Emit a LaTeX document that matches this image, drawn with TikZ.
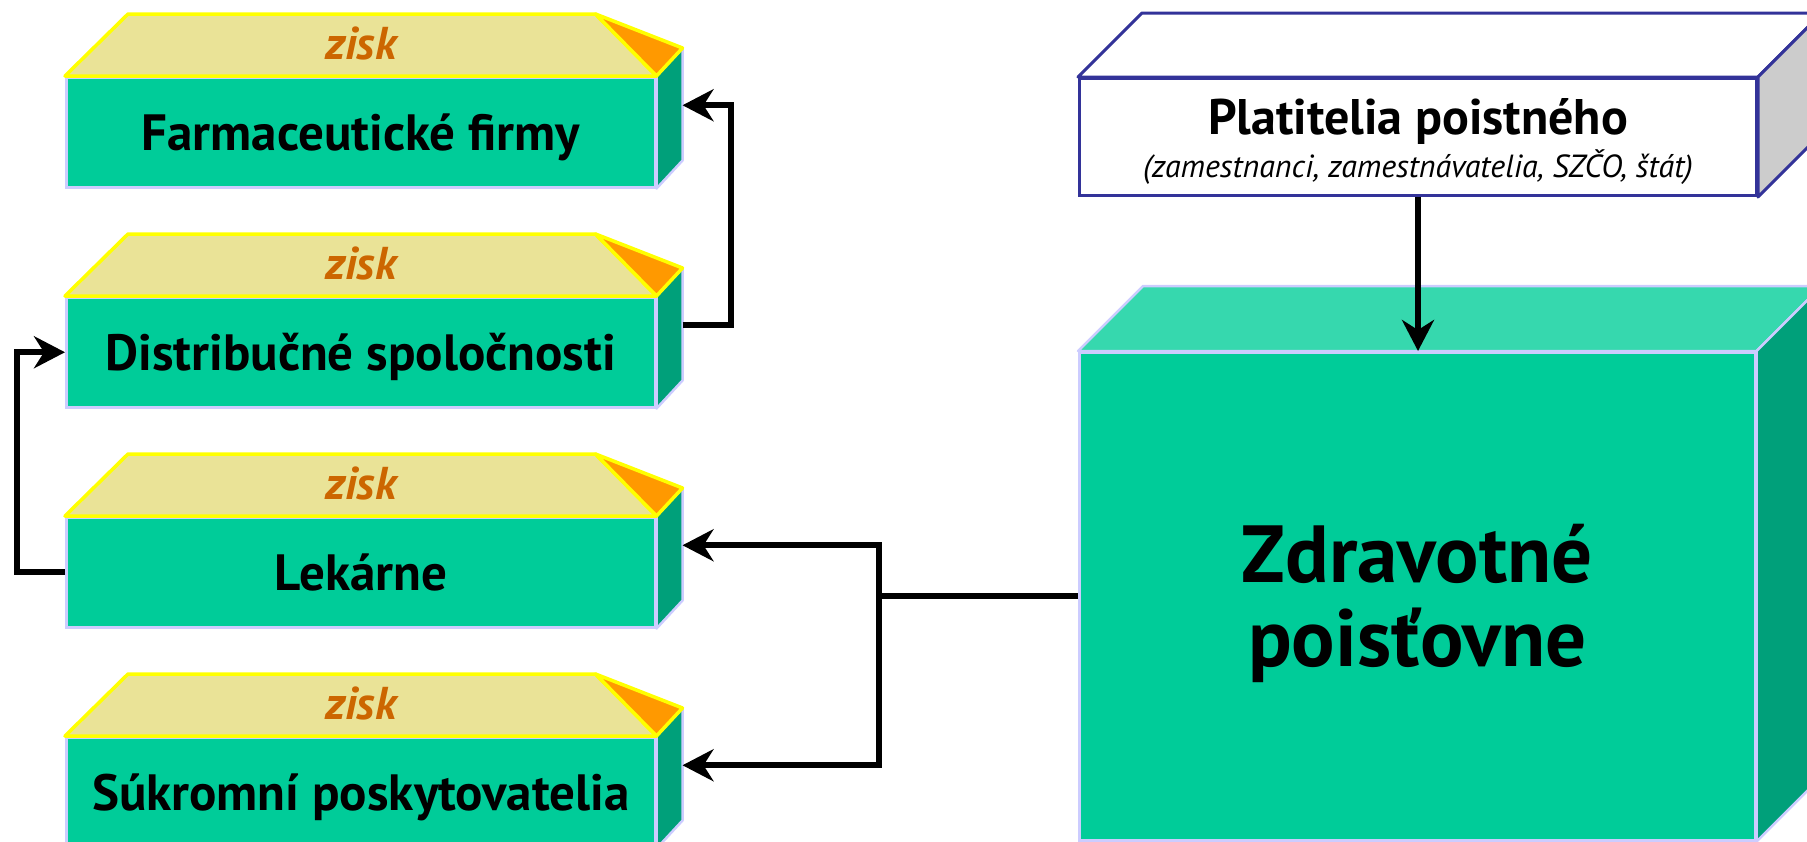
\documentclass[tikz,border=0pt]{standalone}
\usepackage{fontspec}
\setmainfont{PT Sans}
\usetikzlibrary{arrows.meta,calc}

\definecolor{faceteal}{HTML}{00CC99}
\definecolor{sideteal}{HTML}{00A07A}
\definecolor{topteal}{HTML}{36D8AE}
\definecolor{edgelav}{HTML}{CCCCFF}
\definecolor{roofkhaki}{HTML}{EAE397}
\definecolor{roofedge}{HTML}{FFFF00}
\definecolor{roofcorner}{HTML}{FF9900}
\definecolor{profittext}{HTML}{CC6600}
\definecolor{payeredge}{HTML}{333399}
\definecolor{payerside}{HTML}{CCCCCC}

% a green block with a "zisk" roof and a shallow side face
\newcommand\profitblock[4]{%
  \node[frontface] (#1) at (#2,#3) {#4};
  \filldraw[sideface] (#1.north east) -- ++(26,-28) -- ($(#1.south east)+(26,-28)$) -- (#1.south east) -- cycle;
  \filldraw[roofface] (#1.north west) -- ++(63,-62) -- ($(#1.north east)+(-61,-62)$) -- (#1.north east) -- cycle;
  \filldraw[roofcornerface] ($(#1.north east)+(-61,-62)$) -- ($(#1.north east)+(26,-28)$) -- (#1.north east) -- cycle;
  \node[profitlabel] (#1-zisk) at ($(#1.north)+(0,-17)$) {zisk};
  \coordinate (#1-side) at ($(#1.east)+(26,-27)$);
}

\begin{document}
\begin{tikzpicture}[x=1pt,y=-1pt,
  frontface/.style={draw=edgelav, line width=2.5pt, fill=faceteal, anchor=north west,
    minimum width=589pt, minimum height=110pt, inner sep=0pt,
    font=\fontsize{51}{58}\selectfont\bfseries, text height=36pt, text depth=0pt},
  sideface/.style={draw=edgelav, line width=2.5pt, fill=sideteal, line join=round},
  roofface/.style={draw=roofedge, line width=3.5pt, fill=roofkhaki, line join=round},
  roofcornerface/.style={draw=roofedge, line width=3.5pt, fill=roofcorner, line join=round},
  profitlabel/.style={anchor=base, inner sep=0pt, text=profittext,
    font=\fontsize{46}{50}\selectfont\bfseries\itshape},
  bigfront/.style={draw=edgelav, line width=2.5pt, fill=faceteal, anchor=north west,
    minimum width=676pt, minimum height=488pt, inner sep=0pt},
  bigtop/.style={draw=edgelav, line width=2.5pt, fill=topteal, line join=round},
  payerfront/.style={draw=payeredge, line width=3pt, fill=white, anchor=north west,
    minimum width=677pt, minimum height=117pt, inner sep=0pt},
  payerface/.style={draw=payeredge, line width=3pt, line join=round},
  bigtext/.style={anchor=base, inner sep=0pt, font=\fontsize{81}{88}\selectfont\bfseries},
  titletext/.style={anchor=base, inner sep=0pt, font=\fontsize{50}{56}\selectfont\bfseries},
  subtext/.style={anchor=base, inner sep=0pt, font=\fontsize{32}{36}\selectfont\itshape},
  flow/.style={line width=6pt},
  conn/.style={flow, -{Stealth[length=31pt, width=32pt, inset=10pt]}}
]
\useasboundingbox (0,0) rectangle (1807,841);

% supply chain blocks on the left
\profitblock{farm}{65}{76}{Farmaceutické firmy}
\profitblock{dist}{65}{296}{Distribučné spoločnosti}
\profitblock{lek}{65}{516}{Lekárne}
\profitblock{suk}{65}{736}{Súkromní poskytovatelia}

% health insurers
\node[bigfront] (zp) at (1078,351) {};
\filldraw[bigtop] (zp.north west) -- ++(65,-65) -- ($(zp.north east)+(65,-65)$) -- (zp.north east) -- cycle;
\filldraw[sideface] (zp.north east) -- ++(65,-65) -- ($(zp.south east)+(65,-65)$) -- (zp.south east) -- cycle;
\node[bigtext] (zp-l1) at ($(zp.north)+(0,231)$) {Zdravotné};
\node[bigtext] (zp-l2) at ($(zp.north)+(0,315)$) {poisťovne};

% premium payers
\node[payerfront] (plat) at (1078,77) {};
\filldraw[payerface, fill=white] (plat.north west) -- ++(64,-64) -- ($(plat.north east)+(64,-64)$) -- (plat.north east) -- cycle;
\filldraw[payerface, fill=payerside] (plat.north east) -- ++(64,-64) -- ($(plat.south east)+(64,-64)$) -- (plat.south east) -- cycle;
\node[titletext] (plat-title) at ($(plat.north)+(0,57)$) {Platitelia poistného};
\node[subtext] (plat-sub) at ($(plat.north)+(0,100)$) {(zamestnanci, zamestnávatelia, SZČO, štát)};

% money flows
\draw[conn] (plat.south) -- (plat.south |- zp.north);
\coordinate (split) at ($(zp.west)+(-199,0)$);
\draw[flow] (zp.west) -- (split);
\draw[conn] (split) |- (lek-side);
\draw[conn] (split) |- (suk-side);
\draw[conn] (lek.west) -- ++(-48,0) |- (dist.west);
\draw[conn] (dist-side) -- ++(48,0) |- (farm-side);
\end{tikzpicture}
\end{document}
